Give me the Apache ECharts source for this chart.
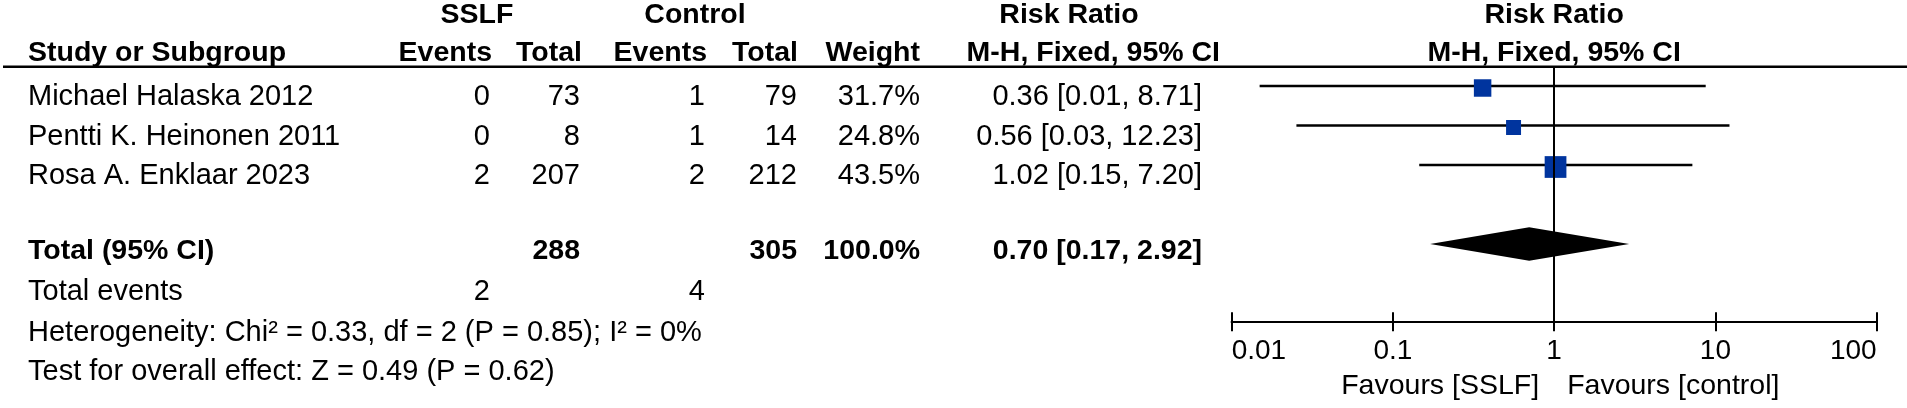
<!DOCTYPE html>
<html><head><meta charset="utf-8">
<script src="https://cdn.jsdelivr.net/npm/echarts@6/dist/echarts.min.js"></script>
<style>html,body{margin:0;padding:0;background:#fff}#c{width:1907px;height:408px}</style>
</head><body><div id="c"></div>
<script>
// ---- data ----
const studies = ['Michael Halaska 2012', 'Pentti K. Heinonen 2011', 'Rosa A. Enklaar 2023'];
const sslfEvents = [0, 0, 2];
const sslfTotal = [73, 8, 207];
const ctrlEvents = [1, 1, 2];
const ctrlTotal = [79, 14, 212];
const weights = [31.7, 24.8, 43.5];
const weightText = ['31.7%', '24.8%', '43.5%'];
const rr = [0.36, 0.56, 1.02];
const rrLow = [0.0149, 0.0252, 0.1456];
const rrHigh = [8.71, 12.23, 7.20];
const rrText = ['0.36 [0.01, 8.71]', '0.56 [0.03, 12.23]', '1.02 [0.15, 7.20]'];
const pooled = [0.70, 0.17, 2.92];           // RR, low, high
const pooledText = '0.70 [0.17, 2.92]';
const totalSslf = 288, totalCtrl = 305, totalWeight = '100.0%';
const eventsSslf = 2, eventsCtrl = 4;
const heterogeneity = 'Heterogeneity: Chi\u00b2 = 0.33, df = 2 (P = 0.85); I\u00b2 = 0%';
const overall = 'Test for overall effect: Z = 0.49 (P = 0.62)';
const tickLabels = ['0.01', '0.1', '1', '10', '100'];
const favours = ['Favours [SSLF]', 'Favours [control]'];

// ---- chart ----
const FONT = 'Liberation Sans, Arial, sans-serif';
const chart = echarts.init(document.getElementById('c'), null, {renderer: 'canvas'});
const rowStep = 39.5, gridTop = 66.7, gridBottomY = 321.7, firstRowY = 86;
const yMin = -(firstRowY - gridTop) / rowStep;
const yMax = (gridBottomY - firstRowY) / rowStep;

const studyData = rr.map((v, i) => [v, i, rrLow[i], rrHigh[i], weights[i]]);
const pooledRow = 4;

function xAxisBase(inside, gi) {
  return {
    gridIndex: gi,
    type: 'log', logBase: 10, min: 0.01, max: 100, position: 'bottom',
    axisLine: {show: true, onZero: false, lineStyle: {color: '#000', width: 2}},
    axisTick: {show: true, inside: inside, length: 9.5, lineStyle: {color: '#000', width: 2}},
    axisLabel: {
      show: inside, fontSize: 28, color: '#000', fontFamily: FONT, margin: 16,
      alignMinLabel: 'left', alignMaxLabel: 'right',
      formatter: v => tickLabels[Math.round(Math.log10(v)) + 2]
    },
    splitLine: {show: false}, minorTick: {show: false}
  };
}
const gridBox = {left: 1231.7, right: 1907 - 1876.6, top: gridTop, bottom: 408 - gridBottomY};

chart.setOption({
  animation: false,
  grid: [Object.assign({}, gridBox), Object.assign({}, gridBox)],
  xAxis: [xAxisBase(true, 0), xAxisBase(false, 1)],
  yAxis: [
    {gridIndex: 0, type: 'value', inverse: true, min: yMin, max: yMax, show: false},
    {gridIndex: 1, type: 'value', inverse: true, min: yMin, max: yMax, show: false}
  ],
  series: [
    {
      type: 'custom', xAxisIndex: 0, yAxisIndex: 0, data: studyData, encode: {x: [0, 2, 3], y: 1},
      renderItem: (p, api) => {
        const y = api.value(1);
        const a = api.coord([api.value(2), y]);
        const b = api.coord([api.value(3), y]);
        const c = api.coord([api.value(0), y]);
        const s = 6 + 0.362 * api.value(4);
        return {type: 'group', children: [
          {type: 'line', shape: {x1: a[0], y1: a[1], x2: b[0], y2: b[1]}, style: {stroke: '#000', lineWidth: 2.5}},
          {type: 'rect', shape: {x: c[0] - s / 2, y: c[1] + 2 - s / 2, width: s, height: s}, style: {fill: '#00349e'}}
        ]};
      }
    },
    {
      type: 'custom', xAxisIndex: 0, yAxisIndex: 0, data: [[pooled[0], pooledRow, pooled[1], pooled[2]]], encode: {x: [0, 2, 3], y: 1},
      renderItem: (p, api) => {
        const y = api.value(1);
        const l = api.coord([api.value(2), y]);
        const m = api.coord([api.value(0), y]);
        const r = api.coord([api.value(3), y]);
        const h = 16.7;
        return {type: 'polygon', shape: {points: [[l[0], l[1]], [m[0], m[1] - h], [r[0], r[1]], [m[0], m[1] + h]]}, style: {fill: '#000'}};
      },
      markLine: {
        silent: true, symbol: 'none', label: {show: false},
        lineStyle: {color: '#000', width: 2, type: 'solid'},
        data: [{xAxis: 1}]
      }
    }
  ]
});

// ---- table text ----
const x1 = chart.convertToPixel({xAxisIndex: 0}, 1);
const els = [];
function txt(x, y, s, align, bold, size) {
  els.push({type: 'text', x: x, y: y, silent: true,
    style: {text: String(s), fill: '#000', align: align, verticalAlign: 'middle',
      font: (bold ? 'bold ' : '') + (size || (bold ? 28.5 : 29)) + 'px ' + FONT}});
}
const col = {study: 28, ev1: 490, tot1: 580, ev2: 705, tot2: 797, wt: 920, rr: 1202};
const hdr1 = 15, hdr2 = 53.5;
const rowY = [97, 137, 176];
const totY = 251, evY = 292, hetY = 332.5, testY = 371.5;

txt(477, hdr1, 'SSLF', 'center', true);
txt(695, hdr1, 'Control', 'center', true);
txt(1069, hdr1, 'Risk Ratio', 'center', true);
txt(x1, hdr1, 'Risk Ratio', 'center', true);
txt(col.study, hdr2, 'Study or Subgroup', 'left', true);
txt(492, hdr2, 'Events', 'right', true);
txt(582, hdr2, 'Total', 'right', true);
txt(707, hdr2, 'Events', 'right', true);
txt(798, hdr2, 'Total', 'right', true);
txt(920, hdr2, 'Weight', 'right', true);
txt(1220, hdr2, 'M-H, Fixed, 95% CI', 'right', true);
txt(x1, hdr2, 'M-H, Fixed, 95% CI', 'center', true);

studies.forEach((s, i) => {
  const y = rowY[i];
  txt(col.study, y, s, 'left');
  txt(col.ev1, y, sslfEvents[i], 'right');
  txt(col.tot1, y, sslfTotal[i], 'right');
  txt(col.ev2, y, ctrlEvents[i], 'right');
  txt(col.tot2, y, ctrlTotal[i], 'right');
  txt(col.wt, y, weightText[i], 'right');
  txt(col.rr, y, rrText[i], 'right');
});
txt(col.study, totY, 'Total (95% CI)', 'left', true);
txt(col.tot1, totY, totalSslf, 'right', true);
txt(col.tot2, totY, totalCtrl, 'right', true);
txt(col.wt, totY, totalWeight, 'right', true);
txt(col.rr, totY, pooledText, 'right', true);
txt(col.study, evY, 'Total events', 'left');
txt(col.ev1, evY, eventsSslf, 'right');
txt(col.ev2, evY, eventsCtrl, 'right');
txt(col.study, hetY, heterogeneity, 'left');
txt(col.study, testY, overall, 'left');
txt(x1 - 15, 386, favours[0], 'right', false, 28.5);
txt(x1 + 13, 386, favours[1], 'left', false, 28.5);

els.push({type: 'line', silent: true, shape: {x1: 3, y1: gridTop, x2: 1907, y2: gridTop}, style: {stroke: '#000', lineWidth: 2.5}});
chart.setOption({graphic: els});
</script></body></html>
